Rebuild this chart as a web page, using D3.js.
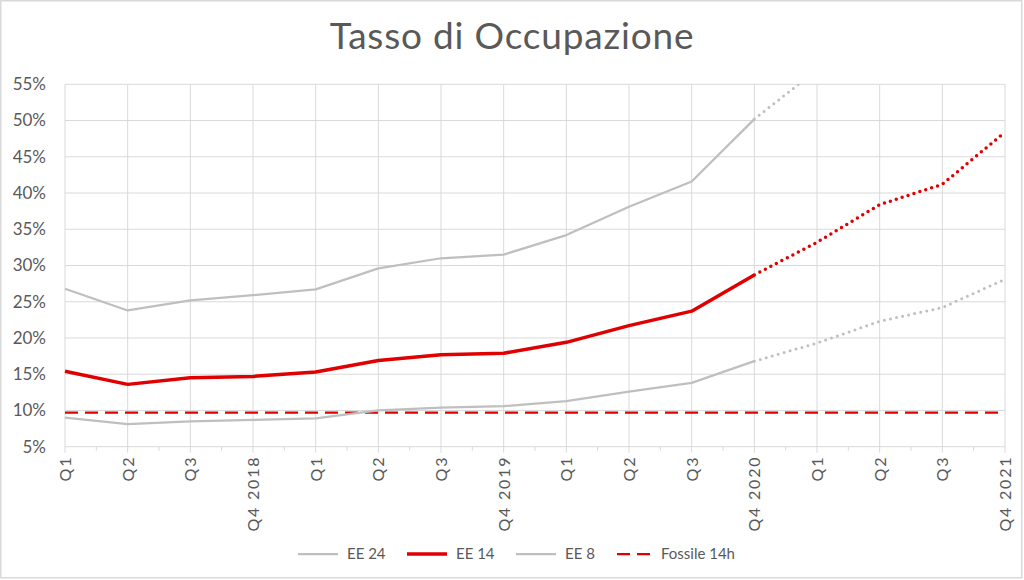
<!DOCTYPE html>
<html><head><meta charset="utf-8">
<script src="https://cdn.jsdelivr.net/npm/d3@7"></script>
<style>
html,body{margin:0;padding:0;background:#fff;}
text{font-family:Lato,"Open Sans",sans-serif;fill:#595959;}
</style></head>
<body>
<svg id="chart" width="1024" height="580"></svg>
<script>
const categories = ["Q1","Q2","Q3","Q4 2018","Q1","Q2","Q3","Q4 2019","Q1","Q2","Q3","Q4 2020","Q1","Q2","Q3","Q4 2021"];
const ee24 = [26.8,23.8,25.2,25.9,26.7,29.6,31.0,31.5,34.2,38.1,41.6,50.2,57.0,62.0,66.0,72.0];
const ee14 = [15.4,13.6,14.5,14.7,15.3,16.9,17.7,17.9,19.4,21.7,23.7,28.7,33.2,38.4,41.2,48.4];
const ee8  = [9.0,8.1,8.5,8.7,8.9,10.0,10.4,10.6,11.3,12.6,13.8,16.8,19.3,22.3,24.2,28.1];
const fossile = [9.7,9.7,9.7,9.7,9.7,9.7,9.7,9.7,9.7,9.7,9.7,9.7,9.7,9.7,9.7,9.7];
const yTicks = [5,10,15,20,25,30,35,40,45,50,55];
const actualEnd = 11; // index of last actual quarter (Q4 2020)
const legendItems = [
  {name:"EE 24", color:"#bfbfbf", width:2.25, dash:null},
  {name:"EE 14", color:"#e00000", width:3.5, dash:null},
  {name:"EE 8", color:"#bfbfbf", width:2.25, dash:null},
  {name:"Fossile 14h", color:"#e00000", width:2.25, dash:"13,7"}
];

(function(){
const svg = d3.select("#chart");
const W = 1024, H = 580;
const pL = 65, pR = 1005, pT = 84.3, pB = 446.7;

svg.append("rect").attr("x",0.75).attr("y",0.75).attr("width",W-3).attr("height",H-3)
  .attr("fill","#fff").attr("stroke","#d9d9d9").attr("stroke-width",1.5);

const x = d3.scalePoint().domain(d3.range(categories.length)).range([pL,pR]);
const y = d3.scaleLinear().domain([5,55]).range([pB,pT]);

svg.append("g").selectAll("line").data(yTicks).join("line")
  .attr("x1",pL).attr("x2",pR).attr("y1",d=>y(d)).attr("y2",d=>y(d))
  .attr("stroke","#d9d9d9").attr("stroke-width",1);
svg.append("g").selectAll("line").data(d3.range(categories.length)).join("line")
  .attr("x1",d=>x(d)).attr("x2",d=>x(d)).attr("y1",pT).attr("y2",pB+6)
  .attr("stroke","#d9d9d9").attr("stroke-width",1);
svg.append("g").selectAll("line").data(d3.range(categories.length-1)).join("line")
  .attr("x1",d=>(x(d)+x(d+1))/2).attr("x2",d=>(x(d)+x(d+1))/2).attr("y1",pB).attr("y2",pB+4)
  .attr("stroke","#d9d9d9").attr("stroke-width",1);

const yAxis = d3.axisLeft(y).tickValues(yTicks).tickSize(0).tickPadding(0).tickFormat(d=>d+"%");
const gy = svg.append("g").attr("transform",`translate(${pL-19},0)`).call(yAxis);
gy.select(".domain").remove();
gy.selectAll("text").style("font-size","17px").attr("fill","#595959").attr("font-family","Lato");

const xAxis = d3.axisBottom(x).tickSize(0).tickFormat(i=>categories[i]);
const gx = svg.append("g").attr("transform",`translate(0,${pB+9})`).call(xAxis);
gx.select(".domain").remove();
gx.selectAll("text").style("font-size","16px").style("letter-spacing","1.8px")
  .attr("fill","#595959").attr("font-family","Lato")
  .attr("transform","rotate(-90)").attr("text-anchor","end").attr("x",0).attr("y",0).attr("dy","0.35em");

svg.append("clipPath").attr("id","plotclip").append("rect")
  .attr("x",pL-5).attr("y",pT).attr("width",pR-pL+10).attr("height",pB-pT);
const plot = svg.append("g").attr("clip-path","url(#plotclip)");
const line = d3.line().x(d=>x(d.i)).y(d=>y(d.v));
const toPts = arr => arr.map((v,i)=>({i,v}));

function drawSeries(arr,color,w,dotW){
  const pts = toPts(arr);
  plot.append("path").datum(pts.slice(0,actualEnd+1)).attr("d",line)
    .attr("fill","none").attr("stroke",color).attr("stroke-width",w)
    .attr("stroke-linejoin","round");
  plot.append("path").datum(pts.slice(actualEnd)).attr("d",line)
    .attr("fill","none").attr("stroke",color).attr("stroke-width",dotW)
    .attr("stroke-linecap","round").attr("stroke-dasharray","0,6.2");
}
plot.append("path").datum(toPts(fossile)).attr("d",line)
  .attr("fill","none").attr("stroke","#e00000").attr("stroke-width",2.25).attr("stroke-dasharray","13,7");
drawSeries(ee8,"#bfbfbf",2.25,3);
drawSeries(ee24,"#bfbfbf",2.25,3);
drawSeries(ee14,"#e00000",3.5,3.5);

svg.append("text").attr("x",512).attr("y",49).attr("text-anchor","middle")
  .style("font-size","37px").style("letter-spacing","0.8px").text("Tasso di Occupazione");

const legX = [298,407,516,617];
legendItems.forEach((it,k)=>{
  const g = svg.append("g").attr("transform",`translate(${legX[k]},554)`);
  g.append("line").attr("x1",0).attr("x2",40).attr("y1",0).attr("y2",0)
    .attr("stroke",it.color).attr("stroke-width",it.width).attr("stroke-dasharray",it.dash);
  g.append("text").attr("x",it.name==="Fossile 14h"?44:49).attr("y",0).attr("dy","0.35em")
    .style("font-size","15px").text(it.name);
});
})();
</script>
</body></html>
